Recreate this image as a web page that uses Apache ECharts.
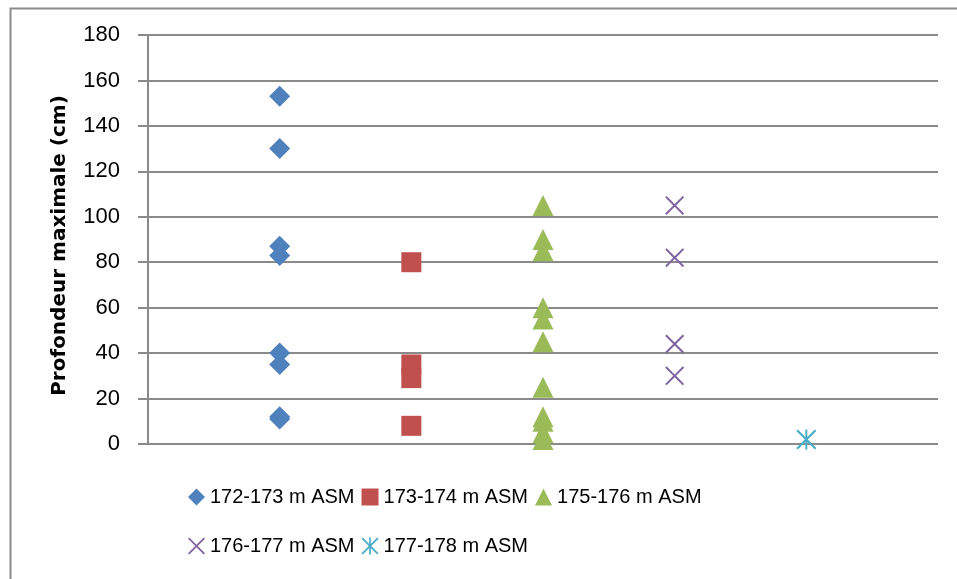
<!DOCTYPE html>
<html>
<head>
<meta charset="utf-8">
<script src="https://cdn.jsdelivr.net/npm/echarts@6/dist/echarts.min.js"></script>
<style>
html,body{margin:0;padding:0;background:#fff;}
#chart{width:957px;height:579px;}
</style>
</head>
<body>
<div id="chart"></div>
<script>
const seriesNames = ['172-173 m ASM','173-174 m ASM','175-176 m ASM','176-177 m ASM','177-178 m ASM'];
const groupX = [1, 2, 3, 4, 5];
const s1 = [153, 130, 87, 83, 40, 35, 12, 11];
const s2 = [80, 35, 29, 8];
const s3 = [105, 90, 85, 60, 55, 45, 25, 12, 10, 5, 2];
const s4 = [105, 82, 44, 30];
const s5 = [2];
const yTicks = [0, 20, 40, 60, 80, 100, 120, 140, 160, 180];

const allValues = [s1, s2, s3, s4, s5];
const colors = ['#4F81BD', '#C0504D', '#9BBB59', '#8064A2', '#4BACC6'];
const crossPath = 'path://M0,1.5L1.5,0L10,8.5L18.5,0L20,1.5L11.5,10L20,18.5L18.5,20L10,11.5L1.5,20L0,18.5L8.5,10Z';
const starPath = 'path://M0,1.5L1.5,0L10,8.5L18.5,0L20,1.5L11.5,10L20,18.5L18.5,20L10,11.5L1.5,20L0,18.5L8.5,10Z M9,0L11,0L11,20L9,20Z';
const symbols = ['diamond', 'rect', 'triangle', crossPath, starPath];
const sizes = [21, 20, 21, 19, 20];

const chart = echarts.init(document.getElementById('chart'), null, {renderer: 'canvas'});
const option = {
  backgroundColor: '#ffffff',
  animation: false,
  graphic: [{
    type: 'rect', left: 8, top: 6,
    shape: {width: 1200, height: 1200},
    style: {fill: 'none', stroke: '#8a8a8a', lineWidth: 2}
  }],
  grid: {left: 148, top: 35, right: 19, bottom: 135, containLabel: false},
  legend: {
    left: 188, top: 476, width: 620, padding: 0,
    itemWidth: 17, itemHeight: 17, itemGap: 7,
    textStyle: {fontFamily: 'Liberation Sans', fontSize: 20, color: '#000', lineHeight: 42},
    data: seriesNames
  },
  xAxis: {
    type: 'value', min: 0, max: 6, interval: 1,
    axisLine: {show: false}, axisTick: {show: false},
    axisLabel: {show: false}, splitLine: {show: false}
  },
  yAxis: {
    type: 'value', min: yTicks[0], max: yTicks[yTicks.length - 1], interval: yTicks[1] - yTicks[0],
    name: 'Profondeur maximale (cm)',
    nameLocation: 'middle', nameRotate: 90, nameGap: 78,
    nameTextStyle: {fontFamily: 'DejaVu Sans', fontWeight: 'bold', fontSize: 20, color: '#000', padding: [0, 12, 0, 0]},
    axisLine: {show: true, lineStyle: {color: '#8a8a8a', width: 2}},
    axisTick: {show: true, inside: false, length: 10, lineStyle: {color: '#8a8a8a', width: 2}},
    axisLabel: {fontFamily: 'Liberation Sans', fontSize: 22, color: '#000', margin: 28},
    splitLine: {show: true, lineStyle: {color: '#8a8a8a', width: 2}}
  },
  series: seriesNames.map((name, i) => ({
    name: name,
    type: 'scatter',
    symbol: symbols[i],
    symbolSize: sizes[i],
    itemStyle: {color: colors[i], opacity: 1},
    data: allValues[i].map(v => [groupX[i], v])
  }))
};
chart.setOption(option);
</script>
</body>
</html>
